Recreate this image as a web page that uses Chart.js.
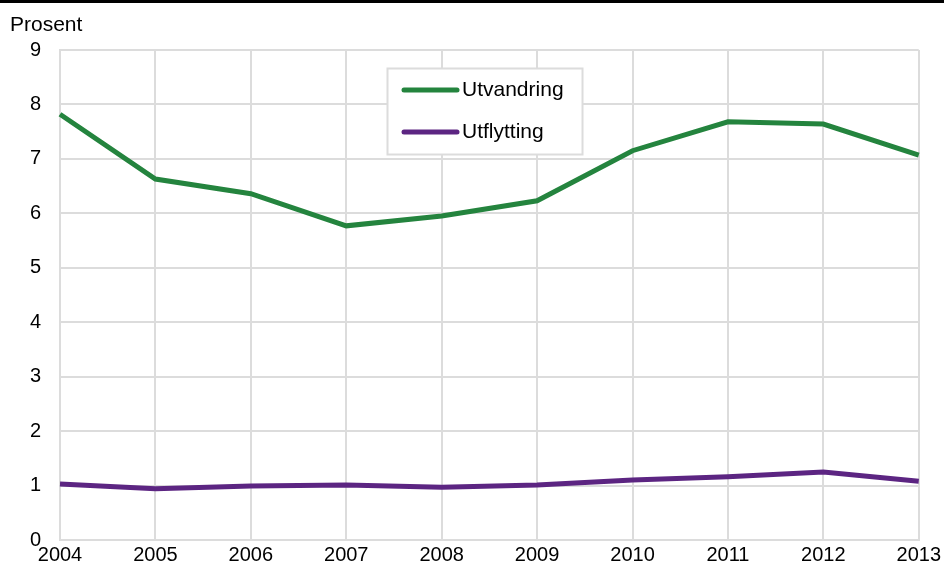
<!DOCTYPE html>
<html>
<head>
<meta charset="utf-8">
<script src="https://cdn.jsdelivr.net/npm/chart.js@4/dist/chart.umd.min.js"></script>
<style>
  html, body { margin: 0; padding: 0; background: #fff; }
  #wrap { position: relative; width: 944px; height: 563px; }
  #topline { position: absolute; left: 0; top: 0; width: 944px; height: 3px; background: #000; }
  canvas { position: absolute; left: 0; top: 0; }
</style>
</head>
<body>
<div id="wrap">
  <canvas id="c" width="944" height="563"></canvas>
  <div id="topline"></div>
</div>
<script>
const years = ['2004','2005','2006','2007','2008','2009','2010','2011','2012','2013'];
const utvandring = [7.82, 6.63, 6.36, 5.77, 5.95, 6.23, 7.15, 7.68, 7.64, 7.07];
const utflytting = [1.03, 0.94, 0.99, 1.01, 0.97, 1.01, 1.10, 1.16, 1.25, 1.08];
const seriesNames = ['Utvandring', 'Utflytting'];
const yAxisLabel = 'Prosent';
const yTicks = [0, 1, 2, 3, 4, 5, 6, 7, 8, 9];

const GREEN = '#24843e';
const PURPLE = '#5c2582';
const GRID = '#dcdcdc';
const FONT = '"Liberation Sans", Arial, sans-serif';

const extrasPlugin = {
  id: 'extras',
  afterDraw(chart) {
    const ctx = chart.ctx;
    ctx.save();
    ctx.fillStyle = '#000';
    ctx.font = '21px ' + FONT;
    ctx.textBaseline = 'alphabetic';
    ctx.textAlign = 'left';
    ctx.fillText(yAxisLabel, 10, 31);
    const bx = 387.5, by = 68.5, bw = 195, bh = 86;
    ctx.fillStyle = '#fff';
    ctx.fillRect(bx, by, bw, bh);
    ctx.strokeStyle = GRID;
    ctx.lineWidth = 2;
    ctx.strokeRect(bx, by, bw, bh);
    const rows = [90, 132];
    chart.data.datasets.forEach((ds, i) => {
      const y = rows[i];
      ctx.strokeStyle = ds.borderColor;
      ctx.lineWidth = 5;
      ctx.lineCap = 'round';
      ctx.beginPath();
      ctx.moveTo(404, y);
      ctx.lineTo(457, y);
      ctx.stroke();
      ctx.fillStyle = '#000';
      ctx.font = '21px ' + FONT;
      ctx.textBaseline = 'middle';
      ctx.textAlign = 'left';
      ctx.fillText(ds.label, 462, y);
    });
    ctx.restore();
  }
};

new Chart(document.getElementById('c'), {
  type: 'line',
  data: {
    labels: years,
    datasets: [
      { label: seriesNames[0], data: utvandring, borderColor: GREEN, backgroundColor: GREEN },
      { label: seriesNames[1], data: utflytting, borderColor: PURPLE, backgroundColor: PURPLE }
    ]
  },
  options: {
    responsive: false,
    animation: false,
    devicePixelRatio: 1,
    layout: { padding: { top: 50, left: 30, right: 24, bottom: 0 } },
    elements: {
      line: { borderWidth: 5, tension: 0, borderCapStyle: 'butt', borderJoinStyle: 'miter' },
      point: { radius: 0, hoverRadius: 0 }
    },
    plugins: { legend: { display: false }, title: { display: false }, tooltip: { enabled: false } },
    scales: {
      x: {
        type: 'category',
        offset: false,
        afterFit(scale) { scale.height = 23; },
        grid: { color: GRID, lineWidth: 2, drawTicks: false },
        border: { color: GRID, width: 2 },
        ticks: { color: '#000', font: { family: FONT, size: 20 }, padding: 3, maxRotation: 0, autoSkip: false }
      },
      y: {
        min: 0, max: 9,
        afterFit(scale) { scale.width = 30; },
        afterBuildTicks(scale) { scale.ticks = yTicks.map(v => ({ value: v })); },
        grid: { color: GRID, lineWidth: 2, drawTicks: false },
        border: { color: GRID, width: 2 },
        ticks: { color: '#000', font: { family: FONT, size: 20 }, padding: 0, crossAlign: 'far', stepSize: 1 }
      }
    }
  },
  plugins: [extrasPlugin]
});
</script>
</body>
</html>
